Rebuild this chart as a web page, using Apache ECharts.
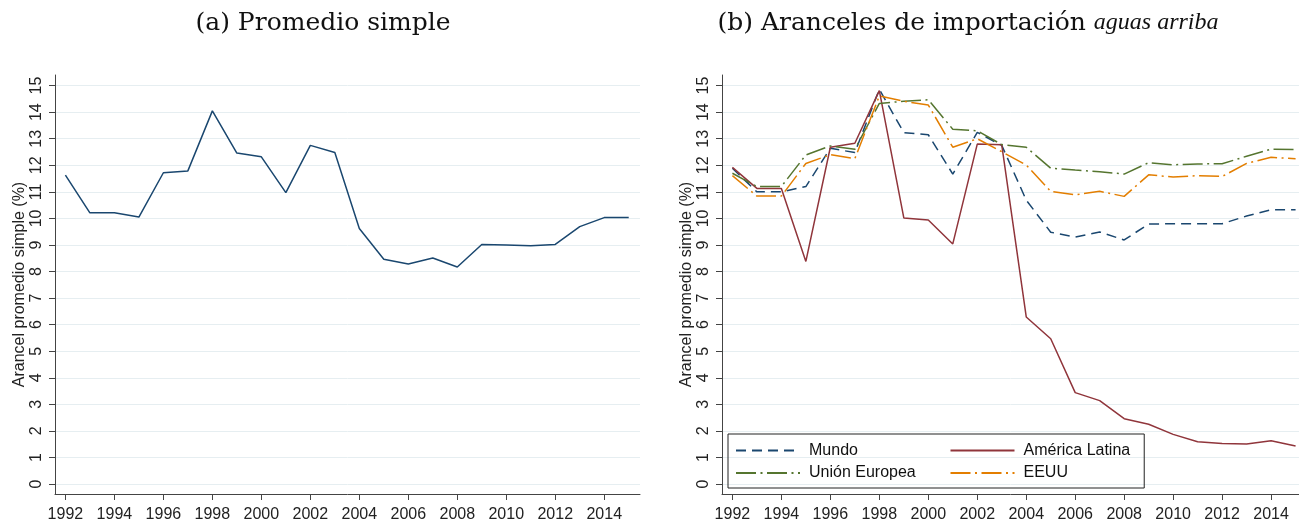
<!DOCTYPE html>
<html>
<head>
<meta charset="utf-8">
<script src="https://cdn.jsdelivr.net/npm/echarts@6/dist/echarts.min.js"></script>
<style>
  html, body { margin: 0; padding: 0; background: #fff; }
  #chart { width: 1299px; height: 524px; }
</style>
</head>
<body>
<div id="chart"></div>
<script>
const years = [1992, 1993, 1994, 1995, 1996, 1997, 1998, 1999, 2000, 2001, 2002, 2003,
  2004, 2005, 2006, 2007, 2008, 2009, 2010, 2011, 2012, 2013, 2014, 2015];
const xTicks = [1992, 1994, 1996, 1998, 2000, 2002, 2004, 2006, 2008, 2010, 2012, 2014];
const yTicks = [0, 1, 2, 3, 4, 5, 6, 7, 8, 9, 10, 11, 12, 13, 14, 15];

// (a) promedio simple
const promedio = [11.63, 10.21, 10.21, 10.05, 11.72, 11.79, 14.05, 12.46, 12.32, 10.97, 12.75, 12.48,
  9.62, 8.46, 8.28, 8.51, 8.17, 9.02, 9.0, 8.97, 9.02, 9.69, 10.03, 10.03];

// (b) aguas arriba
const mundo = [11.89, 11.0, 11.0, 11.2, 12.64, 12.48, 14.86, 13.23, 13.15, 11.67, 13.24, 12.75,
  10.69, 9.48, 9.30, 9.49, 9.19, 9.79, 9.80, 9.80, 9.80, 10.09, 10.33, 10.33];
const americaLatina = [11.92, 11.13, 11.13, 8.38, 12.68, 12.83, 14.81, 10.02, 9.94, 9.04, 12.80, 12.77,
  6.29, 5.47, 3.44, 3.14, 2.46, 2.25, 1.87, 1.59, 1.53, 1.51, 1.63, 1.43];
const unionEuropea = [11.70, 11.2, 11.2, 12.39, 12.73, 12.6, 14.33, 14.41, 14.47, 13.36, 13.30, 12.78,
  12.68, 11.89, 11.82, 11.76, 11.67, 12.10, 12.02, 12.05, 12.06, 12.34, 12.61, 12.59];
const eeuu = [11.61, 10.84, 10.84, 12.07, 12.40, 12.25, 14.61, 14.41, 14.27, 12.68, 13.0, 12.51,
  12.01, 11.02, 10.89, 11.02, 10.83, 11.64, 11.56, 11.61, 11.58, 12.07, 12.30, 12.25];

const sans = "'Liberation Sans', Arial, sans-serif";
const serif = "'DejaVu Serif', serif";
const axisColor = "#444";
const gridColor = "#e6eef1";

function pairs(values) {
  return years.map((y, i) => [y, values[i]]);
}

function makeXAxis(index, max) {
  return {
    type: "value",
    gridIndex: index,
    min: 1991.575,
    max: max,
    axisLine: { show: true, onZero: false, lineStyle: { color: axisColor, width: 1 } },
    axisTick: { show: true, length: 6, customValues: xTicks, lineStyle: { color: axisColor } },
    axisLabel: {
      customValues: xTicks, margin: 13, fontSize: 16, color: "#222", fontFamily: sans,
      formatter: (v) => String(v)
    },
    splitLine: { show: false }
  };
}

function makeYAxis(index) {
  return {
    type: "value",
    gridIndex: index,
    min: -0.376,
    max: 15.4,
    name: "Arancel promedio simple (%)",
    nameLocation: "middle",
    nameRotate: 90,
    nameGap: 27,
    nameTextStyle: { fontSize: 16, color: "#222", fontFamily: sans },
    axisLine: { show: true, onZero: false, lineStyle: { color: axisColor, width: 1 } },
    axisTick: { show: true, length: 6, customValues: yTicks, lineStyle: { color: axisColor } },
    axisLabel: { customValues: yTicks, rotate: 90, margin: 10, fontSize: 16, color: "#222", fontFamily: sans },
    splitLine: { show: true, lineStyle: { color: gridColor, width: 1 } }
  };
}

function lineSeries(name, axis, values, color, dash) {
  return {
    name: name,
    type: "line",
    xAxisIndex: axis,
    yAxisIndex: axis,
    symbol: "none",
    showSymbol: false,
    silent: true,
    lineStyle: { color: color, width: 1.5, type: dash },
    itemStyle: { color: color },
    data: pairs(values)
  };
}

const chart = echarts.init(document.getElementById("chart"));
chart.setOption({
  animation: false,
  backgroundColor: "#fff",
  graphic: [
    {
      type: "text", x: 323, y: 23,
      style: {
        text: "(a) Promedio simple",
        textAlign: "center", textVerticalAlign: "middle",
        font: "25px " + serif, fill: "#111"
      }
    },
    {
      type: "text", x: 968, y: 23,
      style: {
        text: "(b) Aranceles de importación {i|aguas arriba}",
        textAlign: "center", textVerticalAlign: "middle",
        font: "25px " + serif, fill: "#111",
        rich: { i: { fontStyle: "italic", fontSize: 24, fontFamily: "'Liberation Serif', serif", fill: "#111" } }
      }
    }
  ],
  grid: [
    { left: 55, right: 659, top: 75, bottom: 30 },
    { left: 722, right: 0, top: 75, bottom: 30 }
  ],
  xAxis: [makeXAxis(0, 2015.46), makeXAxis(1, 2015.14)],
  yAxis: [makeYAxis(0), makeYAxis(1)],
  legend: {
    left: 728,
    top: 434,
    width: 400,
    orient: "horizontal",
    padding: [7.5, 14, 6, 7],
    itemWidth: 64,
    itemHeight: 14,
    itemGap: 4.5,
    borderColor: "#222",
    borderWidth: 1,
    selectedMode: false,
    itemStyle: { opacity: 0 },
    textStyle: { fontSize: 16, color: "#111", fontFamily: sans, lineHeight: 18, padding: [0, 0, 0, 4] },
    data: [
      { name: "Mundo", textStyle: { width: 136 } },
      { name: "América Latina" },
      { name: "Unión Europea", textStyle: { width: 136 } },
      { name: "EEUU" }
    ]
  },
  series: [
    lineSeries("Promedio simple", 0, promedio, "#1a476f", "solid"),
    lineSeries("Mundo", 1, mundo, "#1a476f", [10, 6]),
    lineSeries("América Latina", 1, americaLatina, "#90353b", "solid"),
    lineSeries("Unión Europea", 1, unionEuropea, "#55752f", [20, 4.5, 2, 4.5]),
    lineSeries("EEUU", 1, eeuu, "#e37e00", [20, 4.5, 2, 4.5])
  ]
});
</script>
</body>
</html>
